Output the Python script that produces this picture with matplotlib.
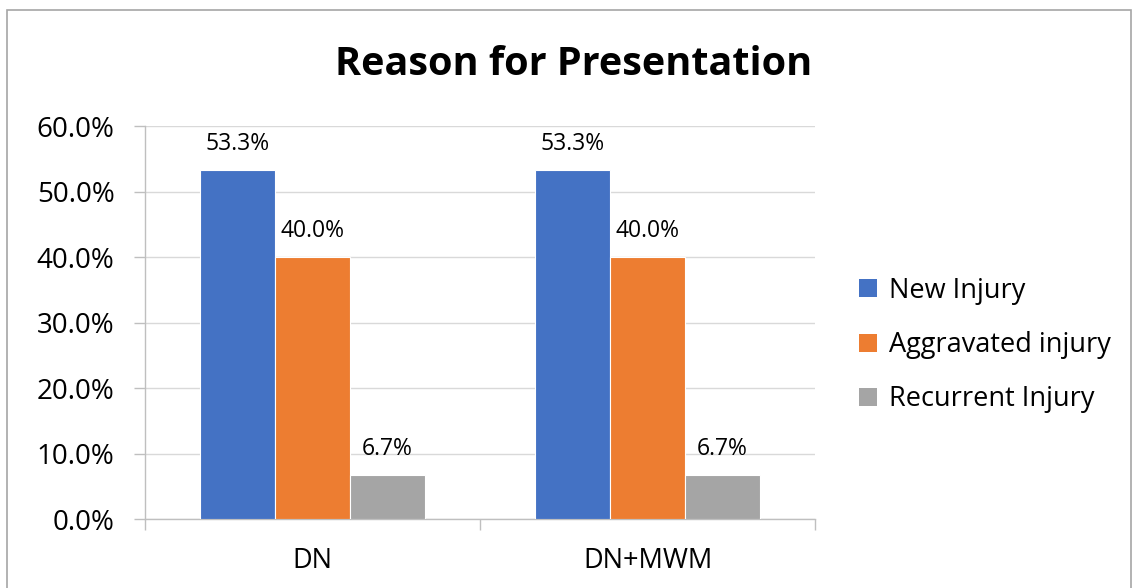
import numpy as np
import matplotlib.pyplot as plt
from matplotlib.patches import Rectangle, Patch

plt.rcParams['font.family'] = ['Open Sans', 'DejaVu Sans']

# Data
groups = ['DN', 'DN+MWM']
series = ['New Injury', 'Aggravated injury', 'Recurrent Injury']
new_injury = [53.3, 53.3]
aggravated = [40.0, 40.0]
recurrent = [6.7, 6.7]
colors = ['#4472C4', '#ED7D31', '#A5A5A5']
yticks = [0, 10, 20, 30, 40, 50, 60]

fig = plt.figure(figsize=(11.34, 5.88), dpi=100)
ax = fig.add_axes([0.1279, 0.1173, 0.5908, 0.6684])

x = np.arange(len(groups))
w = 0.224
for i, (vals, c, name) in enumerate(zip([new_injury, aggravated, recurrent], colors, series)):
    bars = ax.bar(x + (i - 1) * w, vals, w, color=c, edgecolor='white', linewidth=0.8, label=name, zorder=3)
    for b, v in zip(bars, vals):
        ax.annotate(f"{v:.1f}%", (b.get_x() + b.get_width() / 2, v), xytext=(0, 19),
                    textcoords='offset points', ha='center', va='center', fontsize=16.5)

ax.set_xlim(-0.5, 1.5)
ax.set_ylim(0, 60)
ax.set_yticks(yticks)
ax.set_yticklabels([f"{t:.1f}%" for t in yticks], fontsize=20)
ax.grid(axis='y', color='#d9d9d9', linewidth=1, zorder=0)

ax.set_xticks([-0.5, 0.5, 1.5])
ax.set_xticklabels([])
ax.set_xticks(x, minor=True)
ax.set_xticklabels(groups, minor=True, fontsize=19.5)
ax.tick_params(axis='x', which='major', length=8, color='#bfbfbf', width=1)
ax.tick_params(axis='x', which='minor', length=0, pad=20)
ax.tick_params(axis='y', length=8, color='#bfbfbf', width=1, pad=14)

for s in ['top', 'right']:
    ax.spines[s].set_visible(False)
for s in ['left', 'bottom']:
    ax.spines[s].set_color('#bfbfbf')
    ax.spines[s].set_linewidth(1)

fig.text(0.506, 0.89, 'Reason for Presentation', ha='center', va='center',
         fontsize=28.5, fontweight='bold')

handles = [Patch(facecolor=c) for c in colors]
fig.legend(handles, series, loc='center left', bbox_to_anchor=(0.736, 0.413),
           frameon=False, fontsize=19.5, handlelength=0.65, handleheight=0.65,
           handletextpad=0.45, labelspacing=0.97)

fig.patches.append(Rectangle((7 / 1134, -0.1), 1124 / 1134, 1.1 - 10 / 588,
                             transform=fig.transFigure, fill=False,
                             edgecolor='#a6a6a6', linewidth=1.2))

fig.savefig('out.png', dpi=100)
